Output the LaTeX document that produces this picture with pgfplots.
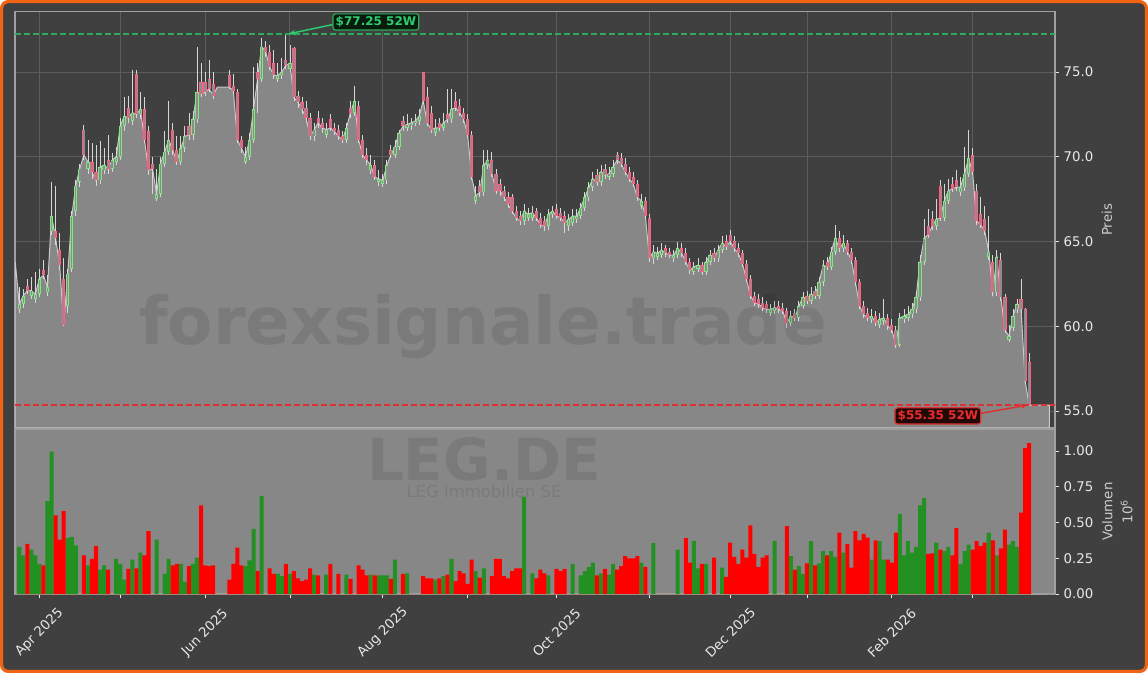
\documentclass[border=0pt]{standalone}
\usepackage{pgfplots}
\pgfplotsset{compat=1.18}
\usepackage{pgfplotstable}
\usepackage{fontspec}
\setmainfont{DejaVu Sans}
\usetikzlibrary{arrows.meta}

\definecolor{figbg}{RGB}{64,64,64}
\definecolor{frameor}{RGB}{240,100,20}
\definecolor{areagray}{RGB}{135,135,135}
\definecolor{arealine}{RGB}{200,200,200}
\definecolor{gridc}{RGB}{92,92,92}
\definecolor{spine}{RGB}{160,160,160}
\definecolor{tickc}{RGB}{232,232,232}
\definecolor{labc}{RGB}{205,205,205}
\definecolor{upc}{RGB}{130,230,130}
\definecolor{dnc}{RGB}{255,95,130}
\definecolor{bodyin}{RGB}{140,140,140}
\definecolor{wickc}{RGB}{215,215,215}
\definecolor{volup}{RGB}{34,145,34}
\definecolor{voldn}{RGB}{255,0,0}
\definecolor{hiline}{RGB}{46,170,90}
\definecolor{loline}{RGB}{220,50,50}
\definecolor{hitext}{RGB}{46,204,113}
\definecolor{lotext}{RGB}{235,45,45}
\definecolor{hibox}{RGB}{8,28,14}
\definecolor{lobox}{RGB}{35,8,8}

% LEG.DE daily candles, x = trading day (0 = 1 Apr 2025), v in millions
\pgfplotstableread{
i o h l c v
-6 63.8 63.8 63.8 63.8 0
-5 61.0 62.3 60.8 61.3 0.33
-4 61.3 62.2 61.1 61.8 0.27
-3 62.4 62.8 61.9 62.1 0.35
-2 61.8 62.9 61.6 62.1 0.31
-1 61.6 63.2 61.4 61.9 0.27
0 61.9 63.4 61.7 62.8 0.21
1 63.3 63.9 62.8 63.0 0.20
2 62.0 63.0 61.8 62.3 0.65
3 65.6 68.5 65.4 66.5 0.995
4 65.6 68.3 64.8 65.2 0.55
5 64.5 65.5 63.3 63.6 0.38
6 62.8 64.0 60.0 60.1 0.58
7 61.2 63.4 60.8 63.1 0.39
8 63.4 66.8 63.2 66.5 0.40
9 66.8 68.6 66.5 68.3 0.34
10 68.5 69.6 68.2 69.3 0
11 71.6 71.9 69.8 70.1 0.27
12 69.3 71.0 69.0 69.7 0.20
13 69.7 70.8 68.7 69.1 0.245
14 69.1 70.7 68.3 68.6 0.335
15 68.6 70.9 68.4 69.4 0.17
16 69.2 70.5 69.0 69.5 0.20
17 69.8 71.3 69.0 69.3 0.17
18 69.3 70.2 69.1 69.8 0
19 69.7 70.6 69.5 70.0 0.245
20 70.0 72.3 69.8 71.8 0.21
21 71.8 73.5 71.5 72.4 0.10
22 72.9 73.6 72.0 72.3 0.175
23 72.1 75.1 71.9 72.6 0.24
24 74.9 75.1 72.3 72.5 0.18
25 72.5 73.8 72.2 72.8 0.29
26 72.8 73.5 70.8 71.0 0.27
27 71.5 71.8 68.9 69.2 0.44
28 69.6 70.0 67.8 69.3 0
29 67.5 69.3 67.4 67.8 0.38
30 67.8 70.0 67.6 69.6 0
31 69.6 71.5 69.4 70.3 0.14
32 70.3 73.3 70.1 71.0 0.245
33 71.6 72.0 70.1 70.4 0.20
34 70.4 71.2 69.5 69.7 0.21
35 69.7 71.2 69.5 70.5 0.21
36 70.5 71.8 70.3 71.2 0.085
37 71.8 72.6 71.0 71.3 0.195
38 71.3 72.7 71.0 72.2 0.21
39 72.2 76.5 72.0 73.8 0.255
40 74.4 75.5 73.5 73.7 0.62
41 74.4 75.0 73.6 73.8 0.20
42 74.6 75.7 73.8 74.0 0.195
43 74.3 75.0 73.4 73.6 0.20
44 74.1 74.1 74.1 74.1 0
45 74.1 74.1 74.1 74.1 0
46 74.1 74.1 74.1 74.1 0
47 74.8 75.1 74.0 74.1 0.10
48 74.2 74.9 73.7 73.9 0.21
49 73.8 74.0 70.8 71.0 0.325
50 71.0 71.2 70.2 70.5 0.20
51 69.7 70.6 69.6 70.0 0.195
52 70.0 71.4 69.8 71.0 0.235
53 71.0 75.3 70.8 72.8 0.455
54 75.0 75.5 72.6 74.6 0.16
55 74.6 77.0 74.4 76.5 0.685
56 76.5 76.8 75.9 76.2 0
57 76.2 76.6 75.1 75.3 0.18
58 75.5 76.3 74.6 74.8 0.14
59 74.6 75.5 74.4 74.8 0.14
60 74.8 75.8 74.6 75.0 0.125
61 75.7 77.25 75.2 75.4 0.21
62 75.2 76.6 75.0 75.5 0.14
63 76.4 76.5 73.3 73.5 0.16
64 73.6 73.9 72.9 73.2 0.11
65 73.2 73.5 72.5 72.8 0.09
66 72.9 73.3 72.0 72.3 0.10
67 72.3 72.6 71.0 71.2 0.18
68 71.2 72.0 70.9 71.6 0.135
69 72.3 72.7 71.7 72.0 0.13
70 72.0 72.3 71.4 71.7 0
71 71.3 72.0 71.1 71.6 0.135
72 72.2 72.5 71.5 71.7 0.21
73 71.7 72.0 71.3 71.5 0
74 71.6 71.9 71.0 71.2 0.14
75 71.2 71.5 70.8 71.0 0
76 71.0 72.0 70.8 71.7 0.135
77 72.9 73.3 72.3 72.6 0.105
78 72.6 74.2 72.4 73.3 0
79 73.0 73.3 70.8 71.0 0.20
80 71.0 71.3 69.9 70.1 0.17
81 70.1 70.5 69.5 69.8 0.13
82 69.2 70.1 69.0 69.5 0.135
83 69.5 69.8 68.6 68.8 0.13
84 68.5 69.2 68.3 68.7 0.13
85 68.4 69.0 68.2 68.6 0.13
86 68.6 69.8 68.4 69.5 0.13
87 70.4 70.7 69.9 70.1 0.105
88 70.1 71.0 69.9 70.6 0.24
89 70.6 71.6 70.4 71.4 0
90 72.1 72.4 71.5 71.8 0.14
91 71.7 72.5 71.5 71.9 0.145
92 71.9 72.3 71.6 72.0 0
93 72.0 72.5 71.8 72.1 0
94 72.1 72.8 71.9 72.4 0
95 75.0 75.0 73.1 73.3 0.125
96 73.5 74.1 71.8 72.0 0.11
97 72.6 73.0 71.4 71.6 0.11
98 71.4 72.2 71.2 71.7 0.10
99 72.0 72.3 71.5 71.7 0.11
100 71.7 72.6 71.5 72.0 0.125
101 72.5 74.0 72.0 72.2 0.135
102 72.2 74.0 72.0 72.8 0.245
103 73.3 73.8 72.7 72.9 0.09
104 73.0 73.4 72.4 72.6 0.16
105 72.6 72.9 72.0 72.2 0.145
106 72.2 72.5 71.1 71.3 0.07
107 71.3 71.5 68.6 68.8 0.24
108 67.4 68.3 67.2 67.7 0.16
109 68.3 68.6 67.6 67.9 0.115
110 67.9 70.4 67.7 69.5 0.18
111 69.5 70.4 69.3 69.8 0
112 69.8 70.3 68.8 69.0 0.125
113 69.0 69.3 67.8 68.0 0.245
114 68.4 68.7 67.7 68.0 0.245
115 68.0 68.3 67.4 67.6 0.125
116 67.6 67.9 67.0 67.2 0.11
117 67.6 67.8 66.6 66.8 0.16
118 66.8 67.1 66.2 66.4 0.18
119 66.5 66.8 66.0 66.2 0.18
120 66.2 67.2 66.0 66.8 0.68
121 66.4 67.0 66.2 66.6 0
122 66.4 67.1 66.2 66.7 0.145
123 66.8 67.0 66.2 66.4 0.11
124 66.4 66.7 65.8 66.0 0.17
125 66.2 66.5 65.6 65.9 0.145
126 65.9 66.9 65.7 66.6 0.13
127 66.6 67.1 66.4 66.8 0
128 66.9 67.2 66.3 66.5 0.175
129 66.7 67.0 66.2 66.4 0.16
130 66.5 66.8 65.5 66.1 0.175
131 65.9 66.6 65.6 66.3 0
132 66.1 66.9 65.9 66.5 0.21
133 66.3 66.9 66.1 66.5 0
134 66.5 67.3 66.3 67.0 0.13
135 67.0 67.9 66.8 67.6 0.16
136 67.6 68.5 67.4 68.2 0.19
137 68.2 69.1 68.0 68.7 0.22
138 68.9 69.3 68.3 68.5 0.13
139 68.5 69.5 68.3 69.1 0.145
140 69.3 69.6 68.7 68.9 0.175
141 68.8 69.4 68.6 69.0 0.135
142 69.0 69.8 68.8 69.4 0.21
143 70.1 70.3 69.6 69.8 0.17
144 69.9 70.2 69.4 69.6 0.195
145 69.6 69.9 68.9 69.1 0.265
146 69.1 69.4 68.5 68.7 0.25
147 68.8 69.1 68.2 68.4 0.25
148 68.4 68.6 67.4 67.6 0.265
149 67.1 67.8 66.9 67.4 0.22
150 67.4 67.6 66.3 66.5 0.19
151 66.4 66.6 63.8 64.0 0
152 64.0 64.8 63.7 64.4 0.355
153 64.1 64.7 63.9 64.3 0
154 64.2 64.9 64.0 64.5 0
155 64.6 64.8 64.1 64.3 0
156 64.4 64.6 64.0 64.2 0
157 64.0 64.5 63.8 64.2 0
158 64.2 65.0 64.0 64.6 0.31
159 64.6 64.9 64.1 64.3 0
160 64.3 64.6 63.6 63.8 0.39
161 63.8 64.0 63.1 63.3 0.22
162 63.2 63.8 63.0 63.5 0.37
163 63.4 64.0 63.2 63.6 0.18
164 63.6 63.8 63.0 63.2 0.21
165 63.2 64.1 63.0 63.8 0.21
166 63.8 64.5 63.6 64.2 0
167 64.3 64.6 63.8 64.0 0.255
168 64.0 64.8 63.8 64.5 0
169 64.5 65.3 64.3 64.9 0.185
170 65.0 65.4 64.5 64.7 0.12
171 65.4 65.7 64.8 65.0 0.36
172 65.0 65.3 64.4 64.6 0.26
173 64.6 64.9 64.1 64.3 0.21
174 64.3 64.5 63.5 63.7 0.31
175 63.7 63.9 62.6 62.8 0.255
176 62.8 63.0 61.6 61.8 0.48
177 61.8 62.0 61.2 61.4 0.28
178 61.6 61.9 61.1 61.3 0.19
179 61.4 61.7 60.9 61.1 0.255
180 61.3 61.5 60.8 61.0 0.27
181 60.8 61.3 60.6 61.0 0
182 60.9 61.5 60.7 61.1 0.37
183 61.2 61.5 60.8 61.0 0
184 61.1 61.4 60.7 60.9 0
185 60.9 61.1 59.9 60.2 0.475
186 60.2 60.9 60.0 60.6 0.265
187 60.8 61.0 60.3 60.5 0.17
188 60.5 61.5 60.3 61.2 0.195
189 61.2 62.0 61.0 61.7 0.14
190 61.8 62.1 61.3 61.5 0.215
191 61.5 62.3 61.3 61.9 0.37
192 62.1 62.4 61.6 61.8 0.20
193 61.8 62.9 61.6 62.6 0.215
194 62.6 63.9 62.4 63.6 0.30
195 63.8 64.1 63.3 63.5 0.27
196 63.5 64.7 63.3 64.4 0.30
197 64.4 66.0 64.2 65.2 0.26
198 65.2 65.6 64.4 64.6 0.43
199 64.6 65.4 64.4 64.9 0.29
200 64.9 65.1 64.2 64.4 0.35
201 64.4 64.6 63.7 63.9 0.185
202 63.9 64.1 62.4 62.6 0.44
203 62.6 62.8 61.0 61.2 0.375
204 61.2 61.5 60.5 60.7 0.42
205 60.8 61.1 60.3 60.5 0.395
206 60.4 61.0 60.2 60.6 0.24
207 60.6 60.9 60.0 60.2 0.375
208 60.1 60.8 59.9 60.4 0.37
209 60.3 61.6 60.1 60.5 0.24
210 60.5 60.7 59.8 60.0 0.24
211 60.1 60.4 59.6 59.8 0.22
212 59.8 60.0 58.7 58.9 0.43
213 58.9 60.8 58.8 60.5 0.56
214 60.4 61.0 60.2 60.6 0.27
215 60.5 61.2 60.3 60.7 0.37
216 60.7 61.4 60.5 61.0 0.29
217 61.0 62.1 60.8 61.7 0.33
218 61.7 64.2 61.5 63.8 0.62
219 63.8 66.3 63.6 65.2 0.67
220 65.9 66.9 65.2 65.4 0.28
221 66.3 66.8 65.7 65.9 0.285
222 65.9 67.5 65.7 66.3 0.36
223 68.3 68.6 66.2 66.4 0.31
224 66.4 68.4 66.2 67.4 0.30
225 67.4 68.7 67.2 68.0 0.33
226 68.4 68.8 67.9 68.1 0.27
227 68.6 69.2 68.0 68.2 0.46
228 67.9 68.8 67.7 68.2 0.21
229 68.2 70.6 68.0 69.0 0.30
230 69.0 71.6 68.8 69.9 0.345
231 70.1 70.5 68.9 69.1 0.31
232 68.0 68.4 66.0 66.2 0.37
233 66.6 67.6 65.8 66.0 0.335
234 66.3 67.1 65.4 65.6 0.36
235 64.1 66.5 63.9 64.4 0.43
236 63.8 64.2 61.8 62.0 0.375
237 62.0 64.5 61.8 64.1 0.27
238 63.9 64.3 61.5 61.7 0.32
239 61.7 61.9 59.6 59.8 0.45
240 59.2 60.1 59.1 59.4 0.345
241 59.9 61.0 59.7 60.6 0.37
242 61.0 61.6 60.8 61.3 0.33
243 61.6 62.8 60.8 61.0 0.57
244 61.0 61.1 56.6 56.8 1.02
245 57.9 58.4 55.35 55.35 1.055
250 55.35 55.35 55.35 55.35 0
}\ohlc

\begin{document}
\begin{tikzpicture}
\useasboundingbox (0,0) rectangle (861pt,-504.75pt);
\draw[frameor, line width=2.4pt, fill=figbg, rounded corners=5pt]
  (1.2pt,-1.2pt) rectangle (859.8pt,-503.55pt);

% price panel
\begin{axis}[
  at={(11.25pt,-321pt)}, anchor=south west,
  scale only axis, width=780pt, height=312pt,
  xmin=-6.05, xmax=251.4, ymin=54, ymax=78.54,
  clip mode=individual,
  axis line style={spine, line width=0.8pt},
  xtick={0,20,41,62,85,106,128,151,171,190,211,231},
  xticklabels={},
  xtick style={draw=none},
  ytick={55,60,65,70,75},
  ytick pos=right, yticklabel pos=right,
  tick align=outside,
  major tick length=3pt,
  ytick style={tickc, line width=0.6pt},
  grid=major,
  major grid style={gridc, line width=0.7pt},
  tick label style={font=\fontsize{10}{12}\selectfont, text=tickc},
  yticklabel style={/pgf/number format/fixed, /pgf/number format/fixed zerofill,
    /pgf/number format/precision=1, /pgf/number format/assume math mode=true},
  ylabel={Preis},
  ylabel style={at={(axis description cs:1.05,0.5)}, anchor=center,
    font=\fontsize{10}{12}\selectfont, text=labc},
]
\addplot[fill=areagray, draw=arealine, line width=0.75pt, mark=none] table[x=i, y=c] {\ohlc} \closedcycle;
% wicks
\addplot[draw=none, mark=none, forget plot,
  error bars/.cd, y dir=both, y explicit, error mark=none,
  error bar style={line width=0.6pt, draw=wickc}]
  table[x=i, y expr={(\thisrow{h}+\thisrow{l})/2}, y error expr={(\thisrow{h}-\thisrow{l})/2}] {\ohlc};
% bodies up
\addplot[draw=none, mark=none, forget plot,
  error bars/.cd, y dir=both, y explicit, error mark=none,
  error bar style={line width=2.4pt, draw=upc}]
  table[x=i, y expr={\thisrow{c}>\thisrow{o} ? (\thisrow{o}+\thisrow{c})/2 : -100},
    y error expr={abs(\thisrow{c}-\thisrow{o})/2}] {\ohlc};
% bodies down
\addplot[draw=none, mark=none, forget plot,
  error bars/.cd, y dir=both, y explicit, error mark=none,
  error bar style={line width=2.4pt, draw=dnc}]
  table[x=i, y expr={\thisrow{c}>\thisrow{o} ? -100 : (\thisrow{o}+\thisrow{c})/2},
    y error expr={abs(\thisrow{c}-\thisrow{o})/2}] {\ohlc};
% hollow inside of the bodies
\addplot[draw=none, mark=none, forget plot,
  error bars/.cd, y dir=both, y explicit, error mark=none,
  error bar style={line width=1.0pt, draw=bodyin}]
  table[x=i, y expr={(\thisrow{o}+\thisrow{c})/2},
    y error expr={max(abs(\thisrow{c}-\thisrow{o})/2-0.045,0)}] {\ohlc};

\addplot[hiline, line width=1.1pt, mark=none, dash pattern=on 4.5pt off 2.25pt] coordinates {(-6.05,77.25) (251.4,77.25)};
\addplot[loline, line width=1.1pt, mark=none, dash pattern=on 4.5pt off 2.25pt] coordinates {(-6.05,55.35) (251.4,55.35)};

\node[draw=hiline, fill=hibox, rounded corners=2pt, line width=0.9pt, text=hitext,
  font=\fontsize{9}{10}\selectfont\bfseries, inner sep=2pt] (hib) at (axis cs:83.3,77.95) {\$77.25 52W};
\draw[-{Stealth[length=5pt,width=4pt]}, hitext, line width=1.1pt]
  ([yshift=-2pt]hib.west) -- (axis cs:61.7,77.25);
\node[draw=loline, fill=lobox, rounded corners=2pt, line width=0.9pt, text=lotext,
  font=\fontsize{9}{10}\selectfont\bfseries, inner sep=2pt] (lob) at (axis cs:222.4,54.71) {\$55.35 52W};
\draw[-{Stealth[length=5pt,width=4pt]}, loline, line width=1.1pt]
  ([yshift=2pt]lob.east) -- (axis cs:244.6,55.35);
\end{axis}

% volume panel
\begin{axis}[
  at={(11.25pt,-445.5pt)}, anchor=south west,
  scale only axis, width=780pt, height=123.75pt,
  xmin=-6.05, xmax=251.4, ymin=0, ymax=1.154,
  axis background/.style={fill=areagray},
  axis line style={spine, line width=0.8pt},
  xtick={0,41,85,128,171,211},
  xticklabels={Apr 2025,Jun 2025,Aug 2025,Oct 2025,Dec 2025,Feb 2026},
  minor xtick={20,62,106,151,190,231},
  xtick pos=left,
  ytick={0,0.25,0.5,0.75,1},
  ytick pos=right, yticklabel pos=right,
  tick align=outside,
  major tick length=3pt, minor tick length=3pt,
  tick style={tickc, line width=0.6pt},
  scaled y ticks=false,
  tick label style={font=\fontsize{10}{12}\selectfont, text=tickc},
  yticklabel style={/pgf/number format/fixed, /pgf/number format/fixed zerofill,
    /pgf/number format/precision=2, /pgf/number format/assume math mode=true},
  xticklabel style={yshift=-26pt, rotate=45, anchor=center},
  ylabel={Volumen\\10\textsuperscript{6}},
  ylabel style={at={(axis description cs:1.06,0.5)}, anchor=center, align=center,
    font=\fontsize{10}{15}\selectfont, text=labc},
]
\addplot[ybar, bar width=1, bar shift=0pt, fill=volup, draw=none]
  table[x=i, y expr={\thisrow{c}>\thisrow{o} ? \thisrow{v} : 0}] {\ohlc};
\addplot[ybar, bar width=1, bar shift=0pt, fill=voldn, draw=none]
  table[x=i, y expr={\thisrow{c}>\thisrow{o} ? 0 : \thisrow{v}}] {\ohlc};
\end{axis}

% watermarks
\node[text=black, text opacity=0.09, font=\fontsize{49.5}{50}\selectfont\bfseries]
  at (362.25pt,-245.25pt) {forexsignale.trade};
\node[text=black, text opacity=0.09, font=\fontsize{43.5}{44}\selectfont\bfseries]
  at (363pt,-344.5pt) {LEG.DE};
\node[text=black, text opacity=0.09, font=\fontsize{12.3}{13}\selectfont]
  at (363pt,-368.5pt) {LEG Immobilien SE};
\end{tikzpicture}
\end{document}
